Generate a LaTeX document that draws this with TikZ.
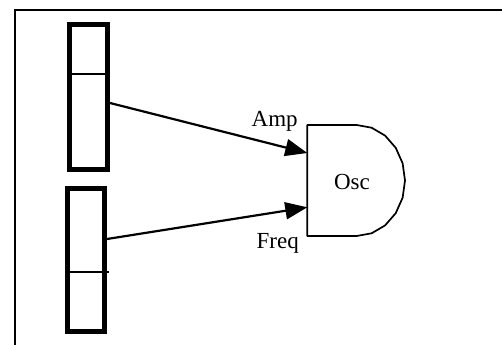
\documentclass[tikz,border=0pt]{standalone}
\usepackage{fontspec}
\setmainfont{Liberation Serif}
\usetikzlibrary{arrows.meta}
\begin{document}
\begin{tikzpicture}[x=1pt,y=-1pt,
  slider/.style={draw, line width=5pt, inner sep=0pt, fill=white},
  thin/.style={line width=1.7pt},
  conn/.style={line width=2.2pt, -{Triangle[length=22pt,width=17pt]}},
  lbl/.style={font=\fontsize{23}{27}\selectfont, inner sep=0pt}]
\useasboundingbox (0,0) rectangle (502,345);
% frame (top and left edges)
\draw[line width=2pt] (15,345) -- (15,10) -- (502,10);
% sliders
\node[slider, minimum width=38pt, minimum height=144pt] (s1) at (88.5,97) {};
\node[slider, minimum width=37.5pt, minimum height=143.5pt] (s2) at (85.75,259.75) {};
\draw[thin] (69.5,74) -- (107.5,74);
\draw[thin] (67,271.7) -- (109.3,271.7);
% oscillator
\draw[thin, line join=round] (307.3,125) -- (356.7,125)
  -- plot[samples=11, domain=-90:90] ({356.7+48.3*cos(\x)},{180.5+55.5*sin(\x)})
  -- (307.3,236) -- cycle;
\node[lbl] (osc) at (352,182) {Osc};
\coordinate (amp) at (307.3,153);
\coordinate (freq) at (307.3,207.3);
\coordinate (s1out) at (110,103);
\coordinate (s2out) at (107,239);
\draw[conn] (s1out) -- (amp);
\draw[conn] (s2out) -- (freq);
\node[lbl, anchor=base west] (amplbl) at (251.5,126.5) {Amp};
\node[lbl, anchor=base west] (freqlbl) at (256.5,248.3) {Freq};
\end{tikzpicture}
\end{document}
